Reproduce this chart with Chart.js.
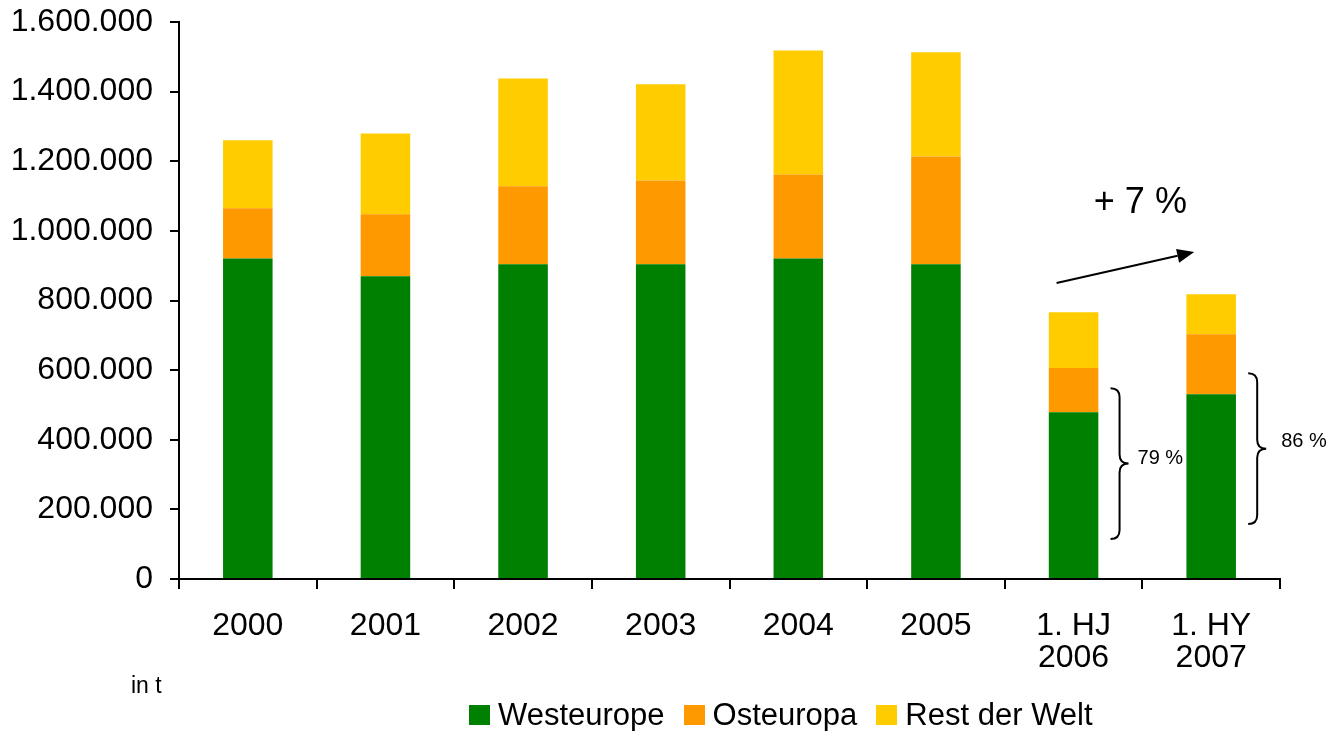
<!DOCTYPE html>
<html lang="de">
<head>
<meta charset="utf-8">
<title>Absatz in t</title>
<script src="https://cdn.jsdelivr.net/npm/chart.js@4.4.1/dist/chart.umd.min.js"></script>
<style>
  body { margin: 0; background: #fff; font-family: "Liberation Sans", Arial, sans-serif; color: #000; }
  #wrap { position: relative; width: 1335px; height: 731px; }
  #unit { position: absolute; left: 131px; top: 672px; font-size: 23px; line-height: 26px; }
  #legend { position: absolute; left: 469px; top: 697px; display: flex; font-size: 31px; line-height: 36px; }
  .item { display: flex; align-items: center; margin-right: 19px; }
  .box { width: 21px; height: 20px; margin-right: 8px; }
</style>
</head>
<body>
<div id="wrap">
  <canvas id="absatzChart" width="1335" height="731"></canvas>
  <div id="unit">in t</div>
  <div id="legend"></div>
</div>
<script>
// Daten
const categories = ['2000', '2001', '2002', '2003', '2004', '2005', ['1. HJ', '2006'], ['1. HY', '2007']];
const westeuropa = [921000, 870000, 904000, 904000, 921000, 904000, 479000, 531000];
const osteuropa = [144000, 178000, 224000, 241000, 241000, 310000, 127000, 172000];
const restDerWelt = [195000, 232000, 310000, 276000, 356000, 299000, 160000, 115000];
const seriesNames = ['Westeurope', 'Osteuropa', 'Rest der Welt'];
const yMax = 1600000;
const yStep = 200000;

// Anmerkungen
const growthLabel = '+ 7 %';
const arrowFrom = 850000;   // Wert bei 1. HJ 2006
const arrowTo = 939000;     // Wert bei 1. HY 2007
const growthLabelAt = 1079000;
const braceIndex = [6, 7];
const braceFrom = [115000, 158000];
const braceTo = [548000, 591000];
const braceLabels = ['79 %', '86 %'];
const braceLabelAt = [347000, 396000];

const colors = ['#008000', '#FF9900', '#FFCC00'];
const FONT = '"Liberation Sans", Arial, sans-serif';

function formatDe(v) {
    return String(v).replace(/\B(?=(\d{3})+(?!\d))/g, '.');
}

function drawBrace(ctx, xe, xt, yTop, yBot) {
    const xs = (xe + xt) / 2, ym = (yTop + yBot) / 2, r = 9;
    ctx.beginPath();
    ctx.moveTo(xe, yTop);
    ctx.quadraticCurveTo(xs, yTop, xs, yTop + r);
    ctx.lineTo(xs, ym - r);
    ctx.quadraticCurveTo(xs, ym, xt, ym);
    ctx.quadraticCurveTo(xs, ym, xs, ym + r);
    ctx.lineTo(xs, yBot - r);
    ctx.quadraticCurveTo(xs, yBot, xe, yBot);
    ctx.stroke();
}

const annotations = {
    id: 'annotations',
    afterDraw(chart) {
        const { ctx, scales: { x, y } } = chart;
        ctx.save();
        ctx.strokeStyle = '#000';
        ctx.fillStyle = '#000';
        ctx.lineWidth = 2;

        // Pfeil
        const x0 = x.getPixelForValue(6) - 17, y0 = y.getPixelForValue(arrowFrom);
        const x1 = x.getPixelForValue(7) - 17, y1 = y.getPixelForValue(arrowTo);
        const ang = Math.atan2(y1 - y0, x1 - x0);
        const head = 17, half = 7;
        const bx = x1 - head * Math.cos(ang), by = y1 - head * Math.sin(ang);
        ctx.beginPath();
        ctx.moveTo(x0, y0);
        ctx.lineTo(bx, by);
        ctx.stroke();
        ctx.beginPath();
        ctx.moveTo(x1, y1);
        ctx.lineTo(bx + half * Math.sin(ang), by - half * Math.cos(ang));
        ctx.lineTo(bx - half * Math.sin(ang), by + half * Math.cos(ang));
        ctx.closePath();
        ctx.fill();

        ctx.font = '36px ' + FONT;
        ctx.textAlign = 'center';
        ctx.textBaseline = 'middle';
        ctx.fillText(growthLabel, (x.getPixelForValue(6) + x.getPixelForValue(7)) / 2 - 2, y.getPixelForValue(growthLabelAt));

        // Klammern
        ctx.font = '20px ' + FONT;
        ctx.textAlign = 'left';
        braceIndex.forEach((idx, i) => {
            const cx = x.getPixelForValue(idx);
            drawBrace(ctx, cx + 37, cx + 55, y.getPixelForValue(braceTo[i]), y.getPixelForValue(braceFrom[i]));
            ctx.fillText(braceLabels[i], cx + (i === 0 ? 64 : 70), y.getPixelForValue(braceLabelAt[i]));
        });
        ctx.restore();
    }
};

const seriesData = [westeuropa, osteuropa, restDerWelt];

const ctx = document.getElementById('absatzChart').getContext('2d');
new Chart(ctx, {
    type: 'bar',
    data: {
        labels: categories,
        datasets: seriesData.map((d, i) => ({
            label: seriesNames[i],
            data: d,
            backgroundColor: colors[i],
            borderWidth: 0,
            barPercentage: 0.9,
            categoryPercentage: 0.4
        }))
    },
    options: {
        responsive: false,
        animation: false,
        layout: { padding: { top: 22, right: 55, left: 0, bottom: 0 } },
        plugins: {
            legend: { display: false },
            tooltip: { enabled: false }
        },
        scales: {
            x: {
                stacked: true,
                grid: {
                    offset: true,
                    drawOnChartArea: false,
                    drawTicks: true,
                    tickLength: 10,
                    color: '#000',
                    lineWidth: 2
                },
                border: { display: true, color: '#000', width: 2 },
                ticks: {
                    color: '#000',
                    font: { family: FONT, size: 32, lineHeight: 1.0 },
                    padding: 21,
                    maxRotation: 0,
                    autoSkip: false
                },
                afterFit: s => { s.height = 152; s.paddingLeft = 0; s.paddingRight = 0; }
            },
            y: {
                stacked: true,
                min: 0,
                max: yMax,
                grid: {
                    drawOnChartArea: false,
                    drawTicks: true,
                    tickLength: 9,
                    color: '#000',
                    lineWidth: 2
                },
                border: { display: true, color: '#000', width: 2 },
                ticks: {
                    stepSize: yStep,
                    color: '#000',
                    font: { family: FONT, size: 32 },
                    padding: 17,
                    callback: v => formatDe(v)
                },
                afterFit: s => { s.width = 179; s.paddingTop = 0; s.paddingBottom = 0; }
            }
        }
    },
    plugins: [annotations]
});

// Legende
const legend = document.getElementById('legend');
seriesNames.forEach((name, i) => {
    const item = document.createElement('div');
    item.className = 'item';
    const box = document.createElement('span');
    box.className = 'box';
    box.style.background = colors[i];
    const txt = document.createElement('span');
    txt.textContent = name;
    item.appendChild(box);
    item.appendChild(txt);
    legend.appendChild(item);
});
</script>
</body>
</html>
